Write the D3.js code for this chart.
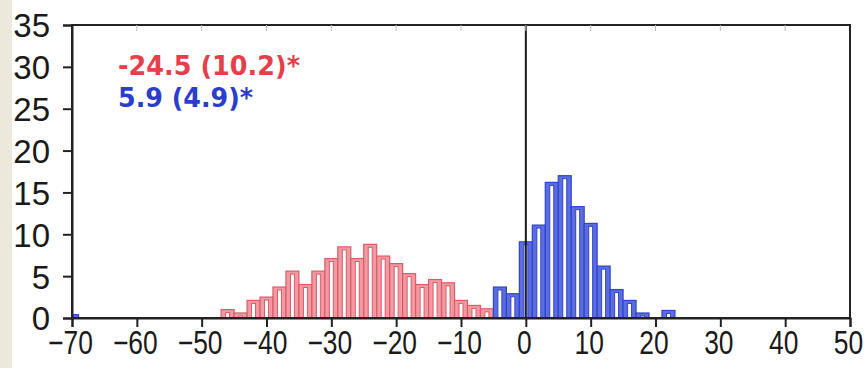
<!DOCTYPE html>
<html>
<head>
<meta charset="utf-8">
<script src="https://cdn.jsdelivr.net/npm/d3@7"></script>
<style>
  html, body { margin: 0; padding: 0; background: #ffffff; }
  svg { display: block; }
</style>
</head>
<body>
<div id="chart"></div>
<script>
// bin centres (width 2) and counts
const redCenters = [-46, -44, -42, -40, -38, -36, -34, -32, -30, -28, -26, -24, -22, -20, -18, -16, -14, -12, -10, -8, -6, -4, -2, 10];
const redValues  = [1.0, 0.6, 2.1, 2.5, 3.7, 5.6, 4.0, 5.6, 7.1, 8.5, 7.1, 8.8, 7.4, 6.5, 5.3, 4.0, 4.6, 4.2, 2.1, 1.5, 1.1, 0.4, 0.4, 0.8];
const blueCenters = [-70, -4, -2, 0, 2, 4, 6, 8, 10, 12, 14, 16, 18, 22];
const blueValues  = [0.4, 3.7, 2.9, 9.1, 11.1, 16.2, 17.0, 13.3, 11.3, 6.2, 3.4, 2.1, 0.6, 0.9];
const binWidth = 2;

const xTicks = [-70, -60, -50, -40, -30, -20, -10, 0, 10, 20, 30, 40, 50];
const yTicks = [0, 5, 10, 15, 20, 25, 30, 35];
const redLabel = "-24.5 (10.2)*";
const blueLabel = "5.9 (4.9)*";

const width = 866, height = 368;
const plotLeft = 72, plotRight = 850, plotTop = 25, plotBottom = 318;

const svg = d3.select('#chart')
    .append('svg')
    .attr('width', width)
    .attr('height', height);

// beige strip on the left
svg.append('rect')
    .attr('x', 0).attr('y', 0)
    .attr('width', 12).attr('height', height)
    .attr('fill', '#ece9dc');

const x = d3.scaleLinear().domain([-70, 50]).range([plotLeft, plotRight]);
const y = d3.scaleLinear().domain([0, 35]).range([plotBottom, plotTop]);

svg.append('defs').append('clipPath')
    .attr('id', 'plot-clip')
    .append('rect')
    .attr('x', plotLeft).attr('y', plotTop)
    .attr('width', plotRight - plotLeft).attr('height', plotBottom - plotTop);

const plot = svg.append('g').attr('clip-path', 'url(#plot-clip)');

function drawBars(centers, values, fill, stroke) {
    const data = centers.map((c, i) => ({ c: c, v: values[i] }));
    const g = plot.append('g');
    const bars = g.selectAll('g')
        .data(data)
        .enter()
        .append('g');

    bars.append('rect')
        .attr('x', d => x(d.c - binWidth / 2))
        .attr('y', d => y(d.v))
        .attr('width', d => x(d.c + binWidth / 2) - x(d.c - binWidth / 2))
        .attr('height', d => y(0) - y(d.v))
        .attr('fill', fill)
        .attr('stroke', stroke)
        .attr('stroke-width', 1.2);

    // white core of each bar
    bars.filter(d => y(0) - y(d.v) > 4)
        .append('rect')
        .attr('x', d => x(d.c - binWidth / 2) + 4.5)
        .attr('y', d => y(d.v) + 3)
        .attr('width', d => x(d.c + binWidth / 2) - x(d.c - binWidth / 2) - 9)
        .attr('height', d => y(0) - y(d.v) - 3)
        .attr('fill', '#ffffff')
        .attr('stroke', stroke)
        .attr('stroke-width', 1);
}

drawBars(redCenters, redValues, '#f09aa1', '#de5a66');
drawBars(blueCenters, blueValues, '#5c6ede', '#3144d0');

// zero line
svg.append('line')
    .attr('x1', x(0)).attr('x2', x(0))
    .attr('y1', plotTop).attr('y2', plotBottom)
    .attr('stroke', '#1a1a1a')
    .attr('stroke-width', 2);

// frame
svg.append('rect')
    .attr('x', plotLeft).attr('y', plotTop)
    .attr('width', plotRight - plotLeft).attr('height', plotBottom - plotTop)
    .attr('fill', 'none')
    .attr('stroke', '#222')
    .attr('stroke-width', 2);

// faint ticks along the top
svg.append('g').selectAll('line')
    .data(xTicks.slice(1, -1))
    .enter()
    .append('line')
    .attr('x1', d => x(d)).attr('x2', d => x(d))
    .attr('y1', plotTop).attr('y2', plotTop + 6)
    .attr('stroke', '#bbb')
    .attr('stroke-width', 1);

// x axis
const xAxis = svg.append('g')
    .attr('transform', `translate(0,${plotBottom})`)
    .call(d3.axisBottom(x).tickValues(xTicks).tickSize(9).tickFormat(d => d < 0 ? '\u2212' + Math.abs(d) : d));
xAxis.select('.domain').attr('stroke', '#222').attr('stroke-width', 2);
xAxis.selectAll('.tick line').attr('stroke', '#222').attr('stroke-width', 2);
xAxis.selectAll('.tick text')
    .attr('y', 0)
    .attr('dy', 0)
    .attr('transform', 'translate(-2,36) scale(0.8,1)')
    .attr('fill', '#1a1a1a')
    .attr('font-family', 'Liberation Sans, Arial, sans-serif')
    .attr('font-size', 33);

// y axis
const yAxis = svg.append('g')
    .attr('transform', `translate(${plotLeft},0)`)
    .call(d3.axisLeft(y).tickValues(yTicks).tickSize(9));
yAxis.select('.domain').attr('stroke', '#222').attr('stroke-width', 2);
yAxis.selectAll('.tick line').attr('stroke', '#222').attr('stroke-width', 2);
yAxis.selectAll('.tick text')
    .attr('x', -22)
    .attr('dy', '0.36em')
    .attr('fill', '#1a1a1a')
    .attr('font-family', 'Liberation Sans, Arial, sans-serif')
    .attr('font-size', 33);

// annotations
svg.append('text')
    .attr('x', 118).attr('y', 75)
    .attr('font-family', 'Liberation Sans Narrow, DejaVu Sans Condensed, sans-serif')
    .attr('font-weight', 'bold')
    .attr('font-size', 27)
    .attr('textLength', 182)
    .attr('lengthAdjust', 'spacingAndGlyphs')
    .attr('fill', '#e63e4a')
    .text(redLabel);

svg.append('text')
    .attr('x', 118).attr('y', 107)
    .attr('font-family', 'Liberation Sans Narrow, DejaVu Sans Condensed, sans-serif')
    .attr('font-weight', 'bold')
    .attr('font-size', 27)
    .attr('textLength', 135)
    .attr('lengthAdjust', 'spacingAndGlyphs')
    .attr('fill', '#2b3dcc')
    .text(blueLabel);
</script>
</body>
</html>
